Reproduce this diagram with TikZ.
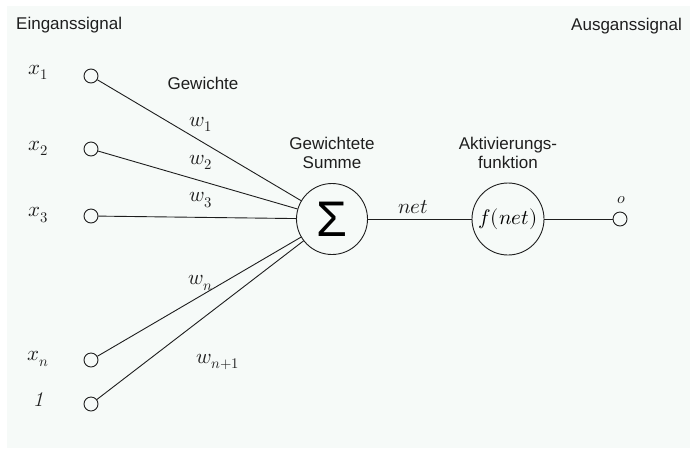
\documentclass[tikz,border=0pt]{standalone}
\usepackage{fontspec}
\usepackage{unicode-math}
\setmathfont{Latin Modern Math}
\setsansfont{Liberation Sans}
\definecolor{paper}{RGB}{246,250,248}
\definecolor{ink}{RGB}{30,30,30}
\begin{document}
\begin{tikzpicture}[x=1pt,y=-1pt,
  port/.style={draw=ink,circle,line width=0.9pt,minimum size=14pt,inner sep=0pt,fill=paper},
  unit/.style={draw=ink,circle,line width=0.9pt,minimum size=71pt,inner sep=0pt,fill=paper},
  caption/.style={font=\sffamily\fontsize{17}{19}\selectfont,text=ink,align=center,inner sep=0pt},
  sym/.style={font=\fontsize{21}{23}\selectfont,text=ink,inner sep=0pt},
  wire/.style={draw=ink,line width=0.9pt}]
  \useasboundingbox (0,0) rectangle (690,448);
  \fill[white] (0,0) rectangle (690,448);
  \fill[paper] (7,6) rectangle (690,448);

  % headings
  \node[caption,anchor=west] (inlabel) at (16,25) {Einganssignal};
  \node[caption,anchor=east] (outlabel) at (682,26) {Ausganssignal};
  \node[caption] (weightslabel) at (203,83) {Gewichte};
  \node[caption] (sumlabel) at (332,153) {Gewichtete\\Summe};
  \node[caption] (actlabel) at (508,153) {Aktivierungs-\\funktion};

  % input ports
  \node[port] (x1) at (91,76) {};
  \node[port] (x2) at (91,149) {};
  \node[port] (x3) at (91,216) {};
  \node[port] (xn) at (91,360) {};
  \node[port] (bias) at (91,404) {};

  \node[sym] (lx1) at (38,72) {$x_1$};
  \node[sym] (lx2) at (38,148) {$x_2$};
  \node[sym] (lx3) at (38,215) {$x_3$};
  \node[sym] (lxn) at (38,359) {$x_n$};
  \node[sym] (lbias) at (38,400) {\itshape 1};

  % processing units
  \node[unit] (sum) at (332,219) {\sffamily\fontsize{50}{50}\selectfont Σ};
  \node[unit,minimum size=72pt] (act) at (508,219) {\fontsize{21}{23}\selectfont$f(net)$};
  \node[port] (out) at (620,219) {};
  \node[sym,font=\fontsize{16}{18}\selectfont] (lo) at (621,200) {$o$};

  % connections
  \draw[wire] (x1) -- (sum);
  \draw[wire] (x2) -- (sum);
  \draw[wire] (x3) -- (sum);
  \draw[wire] (xn) -- (sum);
  \draw[wire] (bias) -- (sum);
  \draw[wire] (sum) -- (act);
  \draw[wire] (act) -- (out);

  % weights and signal names
  \node[sym] (w1) at (201,124) {$w_1$};
  \node[sym] (w2) at (201,162) {$w_2$};
  \node[sym] (w3) at (201,200) {$w_3$};
  \node[sym] (wn) at (201,283) {$w_n$};
  \node[sym] (wb) at (218,362) {$w_{n+1}$};
  \node[sym] (lnet) at (413,207) {$net$};
\end{tikzpicture}
\end{document}
